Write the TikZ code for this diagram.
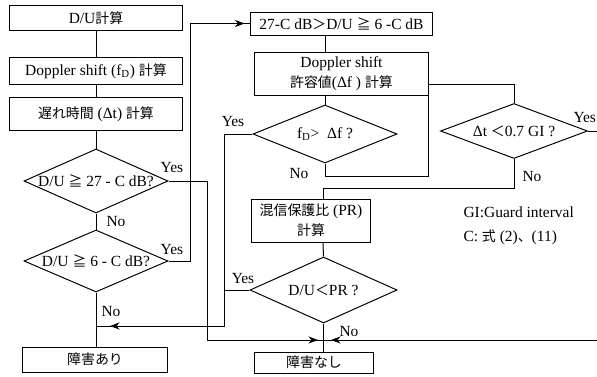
\documentclass[tikz,border=0pt]{standalone}
\usepackage{fontspec}
\setmainfont{Liberation Serif}
\newfontfamily\cjk[Scale=0.9]{Noto Sans CJK JP}
\newcommand{\jp}[1]{{\cjk #1}}
\newcommand{\ctext}[1]{\makebox[0pt]{#1}}
\usetikzlibrary{arrows.meta, shapes.geometric, decorations.markings}
\tikzset{
  every picture/.style={font=\fontsize{11}{13}\selectfont, line width=0.7pt},
  box/.style={draw, rectangle, inner sep=1pt, align=center},
  dia/.style={draw, diamond, inner sep=0pt},
  lab/.style={inner sep=0pt},
  tipat/.style={postaction={decorate}, decoration={markings,
    mark=at position #1 with {\arrow{Stealth[length=2.4mm, width=1.8mm]}}}},
}

\begin{document}
\begin{tikzpicture}[x=0.025cm, y=-0.025cm]
  \useasboundingbox (0,0) rectangle (597,376);
  % left column
  \node[box, minimum width=4.325cm, minimum height=0.625cm] (du) at (96,18) {D/U\jp{計算}};
  \node[box, minimum width=4.325cm, minimum height=0.675cm] (dop) at (96,71) {Doppler shift (f\textsubscript{D}) \jp{計算}};
  \node[box, minimum width=4.325cm, minimum height=0.825cm] (delay) at (96,114) {\jp{遅れ時間} (Δt) \jp{計算}};
  \node[dia, minimum width=3.6cm, minimum height=1.6cm] (q27) at (96,181) {\ctext{D/U \jp{≧} 27 - C dB?}};
  \node[dia, minimum width=3.6cm, minimum height=1.55cm] (q6) at (96,261) {\ctext{D/U \jp{≧} 6 - C dB?}};
  \node[box, minimum width=3.6cm, minimum height=0.625cm] (ng) at (95,359.5) {\jp{障害あり}};
  % middle column
  \node[box, minimum width=4.525cm, minimum height=0.575cm] (mid) at (341.5,23.5) {27-C dB\jp{＞}D/U \jp{≧} 6 -C dB};
  \node[box, minimum width=4.325cm, minimum height=1.075cm] (tol) at (341.5,73.5) {Doppler shift\\[1pt]\jp{許容値}(Δf ) \jp{計算}};
  \node[dia, minimum width=3.6cm, minimum height=1.45cm] (qfd) at (325,134) {\ctext{f\textsubscript{D}> \ Δf ?}};
  \node[box, minimum width=2.95cm, minimum height=1.075cm] (pr) at (311,220.5) {\jp{混信保護比} (PR)\\[1pt]\jp{計算}};
  \node[dia, minimum width=3.675cm, minimum height=1.65cm] (qpr) at (323.5,290) {\ctext{D/U\jp{＜}PR ?}};
  \node[box, minimum width=2.95cm, minimum height=0.525cm] (ok) at (314,362.5) {\jp{障害なし}};
  % right column
  \node[dia, minimum width=3.675cm, minimum height=1.375cm] (qgi) at (514,131) {\ctext{Δt \jp{＜}0.7 GI ?}};
  \node[lab, anchor=west] (gi) at (463,212) {GI:Guard interval};
  \node[lab, anchor=west] (cref) at (463,237) {C: \jp{式} (2)\jp{、}(11)};

  \coordinate (yes27) at (207,340);
  \coordinate (yes6) at (190,0);
  \coordinate (fdyes) at (224,326);
  \coordinate (fdnoA) at (428,176);
  \coordinate (fdnoB) at (428,84);
  \coordinate (gino) at (323,188);
  \coordinate (giout) at (603,340);
  \coordinate (join) at (323,340);

  % straight runs
  \draw (du) -- (dop);
  \draw (dop) -- (delay);
  \draw (delay) -- (q27);
  \draw (q27) -- (q6);
  \draw (q6.south) -- (q6.south |- ng.north);
  \draw (mid.south -| qfd.north) -- (tol.north -| qfd.north);
  \draw (tol.south -| qfd.north) -- (qfd.north);
  \draw (pr.south -| gino) -- (qpr.north);
  \draw (qpr.south) -- (qpr.south |- ok.north);

  % branches
  \draw[tipat=-0.125cm] (q27.east) -| (yes27) -- (join);
  \draw[tipat=-0.15cm] (q6.east) -| (yes6 |- mid.west) -- (mid.west);
  \draw[tipat=-0.35cm] (qfd.west) -| (fdyes) -- (fdyes -| q6.south);
  \draw (qfd.south) |- (fdnoA) |- (fdnoB) -| (qgi.north);
  \draw (qgi.south) |- (gino) -- (gino |- pr.north);
  \draw (qpr.west) -- (qpr.west -| fdyes);
  \draw[tipat=-0.2cm] (qgi.east) -| (giout) -- (join);

  % labels
  \node[lab] (y27) at (172,168) {Yes};
  \node[lab] (n27) at (116,222) {No};
  \node[lab] (y6) at (172,250) {Yes};
  \node[lab] (n6) at (111,312) {No};
  \node[lab] (yfd) at (233,122) {Yes};
  \node[lab] (nfd) at (299,174) {No};
  \node[lab, anchor=west] (ygi) at (573,118) {Yes};
  \node[lab] (ngi) at (532,177) {No};
  \node[lab] (ypr) at (243,279) {Yes};
  \node[lab] (npr) at (349,332) {No};
\end{tikzpicture}
\end{document}
